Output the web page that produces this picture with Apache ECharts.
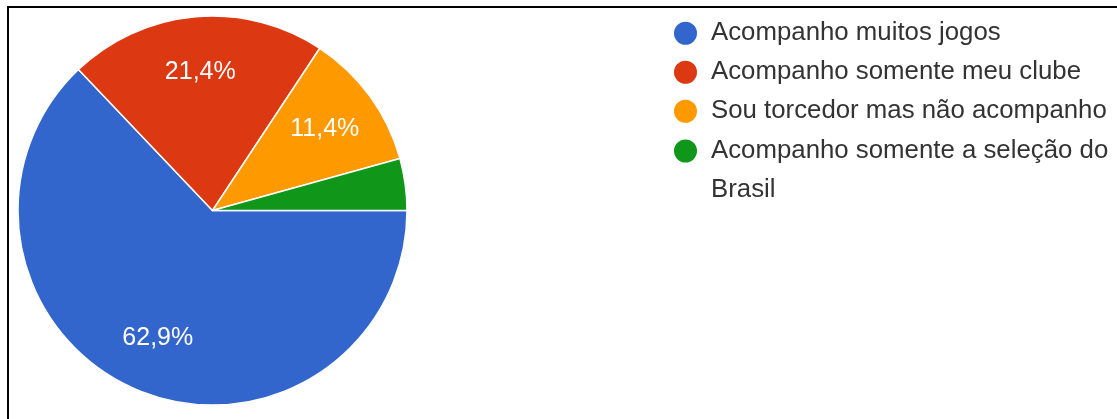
<!DOCTYPE html>
<html>
<head>
<meta charset="utf-8">
<script src="https://cdn.jsdelivr.net/npm/echarts@6/dist/echarts.min.js"></script>
<style>
  html, body { margin: 0; padding: 0; background: #ffffff; }
  #chart { width: 1117px; height: 419px; }
</style>
</head>
<body>
<div id="chart"></div>
<script>
// Categories and shares (percent of answers)
const categories = [
  'Acompanho muitos jogos',
  'Acompanho somente meu clube',
  'Sou torcedor mas não acompanho',
  'Acompanho somente a seleção do Brasil'
];
const shares = [62.9, 21.4, 11.4, 4.3];
const colors = ['#3366cc', '#dc3912', '#ff9900', '#109618'];

const FONT = '"Liberation Sans", Arial, sans-serif';
const CENTER = [212.5, 210.5];
const RADIUS = 194.5;
const LINE = 38.5;

const sliceData = categories.map((name, i) => ({
  name: name,
  value: shares[i],
  itemStyle: { color: colors[i] }
}));

// Transparent ring used only to place the percentage labels further out
const labelData = categories.map((name, i) => ({
  name: name,
  value: shares[i],
  label: { show: shares[i] >= 5 }
}));

// Long legend entry wraps before its last word; the leading empty line keeps
// the first text line level with the legend dot
function wrapLast(name) {
  const cut = name.lastIndexOf(' ');
  return '\n' + name.slice(0, cut) + '\n' + name.slice(cut + 1);
}

const legendText = { fontFamily: FONT, fontSize: 25.8, color: '#333333', lineHeight: LINE, padding: [0, 0, 0, 8] };

const chart = echarts.init(document.getElementById('chart'), null, { renderer: 'canvas' });

chart.setOption({
  animation: false,
  backgroundColor: '#ffffff',
  color: colors,
  graphic: [{
    type: 'rect',
    shape: { x: 8, y: 7, width: 1300, height: 600 },
    style: { fill: 'none', stroke: '#000000', lineWidth: 2 },
    silent: true
  }],
  legend: [{
    orient: 'vertical',
    left: 672,
    top: 14,
    padding: 0,
    itemGap: 0.5,
    itemWidth: 25,
    itemHeight: 25,
    icon: 'circle',
    data: categories.slice(0, 3),
    textStyle: legendText
  }, {
    orient: 'vertical',
    left: 672,
    top: 151 - LINE * 1.5,
    padding: 0,
    itemWidth: 25,
    itemHeight: 25,
    icon: 'circle',
    data: categories.slice(3),
    formatter: wrapLast,
    textStyle: legendText
  }],
  series: [{
    type: 'pie',
    center: CENTER,
    radius: [0, RADIUS],
    startAngle: 0,
    clockwise: true,
    avoidLabelOverlap: false,
    label: { show: false },
    labelLine: { show: false },
    itemStyle: { borderColor: '#ffffff', borderWidth: 1.5 },
    emphasis: { scale: false },
    data: sliceData
  }, {
    type: 'pie',
    center: CENTER,
    radius: [77, RADIUS],
    startAngle: 0,
    clockwise: true,
    silent: true,
    legendHoverLink: false,
    avoidLabelOverlap: false,
    itemStyle: { color: 'rgba(0,0,0,0)' },
    label: {
      position: 'inside',
      color: '#ffffff',
      fontFamily: FONT,
      fontSize: 25,
      formatter: p => p.value.toFixed(1).replace('.', ',') + '%'
    },
    labelLine: { show: false },
    data: labelData
  }]
});
</script>
</body>
</html>
